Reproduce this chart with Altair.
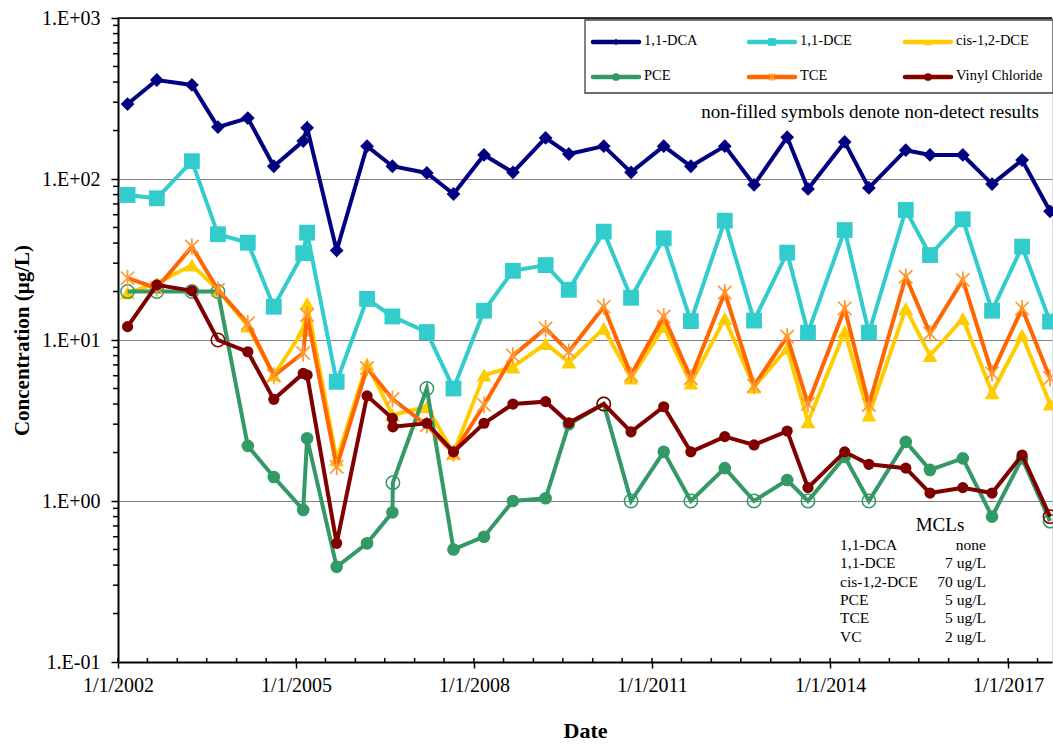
import altair as alt
import pandas as pd

# ---------------- data ----------------
dates = ["2002-03-01", "2002-08-28", "2003-04-01", "2003-09-08", "2004-03-10", "2004-08-17",
         "2005-02-14", "2005-03-10", "2005-09-08", "2006-03-14", "2006-08-17", "2006-08-20",
         "2007-03-17", "2007-08-28", "2008-03-03", "2008-08-28", "2009-03-17", "2009-08-07",
         "2010-03-10", "2010-08-25", "2011-03-14", "2011-08-28", "2012-03-24", "2012-09-20",
         "2013-04-12", "2013-08-18", "2014-04-01", "2014-08-28", "2015-04-12", "2015-09-08",
         "2016-03-28", "2016-09-24", "2017-03-28", "2017-09-16"]

dca = [292, 412, 384, 210, 239, 120, 172, 208, 36, 160, 120, None, 109, 80.7, 141, 110, 180, 143,
       160, 110, 160, 120, 160, 92, 182, 86.7, 170, 88, 151, 141, 141, 93, 131, 63]
dce = [79.6, 75.9, 129, 45.4, 40.2, 16.1, 34.6, 46.4, 5.5, 18.0, 14.0, None, 11.2, 5.0, 15.2, 26.9,
       29.2, 20.5, 47.1, 18.3, 42.8, 13.1, 55.1, 13.2, 34.9, 11.1, 48.2, 11.1, 64.2, 33.7, 56.2,
       15.2, 38.0, 13.0]
cis_dce = [19.6, 22.5, 29.2, 20.5, 12.2, 6.06, 11.5, 16.9, 1.80, 7.1, 3.42, None, 3.85, 1.98, 6.06,
           6.8, 9.5, 7.3, 11.8, 5.8, 12.1, 5.4, 13.6, 5.1, 8.9, 3.1, 11.3, 3.42, 15.7, 8.0, 13.6,
           4.7, 10.7, 4.0]
pce = [20, 20, 20, 20, 2.2, 1.41, 0.88, 2.45, 0.39, 0.546, 0.85, 1.3, 5.0, 0.50, 0.60, 1.0, 1.04,
       3.0, 4.0, 1.0, 2.02, 1.0, 1.6, 1.0, 1.35, 1.0, 1.88, 1.0, 2.33, 1.56, 1.84, 0.80, 1.84, 0.75]
tce = [24.2, 21, 38.0, 20.5, 12.7, 6.0, 8.3, 14.3, 1.63, 6.7, 4.3, None, 2.96, 1.98, 3.95, 8.0,
       11.8, 8.45, 16.1, 6.06, 14.0, 5.8, 19.7, 5.2, 10.5, 4.0, 15.7, 3.95, 24.7, 11.0, 23.6, 6.2,
       15.7, 5.8]
vc = [12.1, 22.0, 20.2, 10, 8.45, 4.28, 6.2, 6.06, 0.546, 4.5, 3.26, 2.89, 3.04, 2.02, 3.04, 4.0,
      4.14, 3.06, 4.0, 2.69, 3.85, 2.02, 2.51, 2.23, 2.72, 1.21, 2.02, 1.69, 1.60, 1.12, 1.21, 1.12,
      1.93, 0.80]
pce_nondetect = [0, 1, 2, 3, 11, 12, 18, 19, 21, 23, 25, 27, 33]
vc_nondetect = [3, 18, 33]

names = ["1,1-DCA", "1,1-DCE", "cis-1,2-DCE", "PCE", "TCE", "Vinyl Chloride"]
colors = ["#000080", "#33CCCC", "#FFCC00", "#339966", "#FF6600", "#800000"]

mcl_names = ["1,1-DCA", "1,1-DCE", "cis-1,2-DCE", "PCE", "TCE", "VC"]
mcl_values = ["none", "7 ug/L", "70 ug/L", "5 ug/L", "5 ug/L", "2 ug/L"]

major_years = [2002, 2005, 2008, 2011, 2014, 2017]
y_major = [0.1, 1, 10, 100, 1000]

# ---------------- layout ----------------
W, H = 934, 644
FONT = "Liberation Serif"
STAR = "M0,-1L0,1M-0.8,-0.8L0.8,0.8M-0.8,0.8L0.8,-0.8"

yscale = alt.Scale(type="log", domain=[0.1, 1000])
xscale = alt.Scale(type="utc", domain=[alt.DateTime(year=2002, month=1, date=1, utc=True),
                                       alt.DateTime(year=2017, month=9, date=28, utc=True)])

yaxis = alt.Axis(values=y_major, title="Concentration (µg/L)",
                 labelExpr="datum.value >= 1 ? '1.E+0' + format(log(datum.value)/log(10), '.0f') : '1.E-0' + format(-log(datum.value)/log(10), '.0f')",
                 grid=True, gridColor="#808080", gridWidth=1.2,
                 domainColor="black", domainWidth=2, tickColor="black", tickWidth=1.5, tickSize=7,
                 labelFont=FONT, labelFontSize=20, labelColor="black", labelPadding=11,
                 titleFont=FONT, titleFontSize=21, titleFontWeight="bold", titleColor="black",
                 titlePadding=9)
xaxis = alt.Axis(values=[alt.DateTime(year=y, month=1, date=1, utc=True) for y in major_years],
                 labelExpr="'1/1/' + utcFormat(datum.value, '%Y')", title="Date",
                 grid=False, domainColor="black", domainWidth=2, tickColor="black", tickWidth=1.5,
                 tickSize=6, labelFont=FONT, labelFontSize=20, labelColor="black", labelPadding=7,
                 labelFlush=False, labelOverlap=False,
                 titleFont=FONT, titleFontSize=22, titleFontWeight="bold", titleColor="black",
                 titlePadding=25)

X = alt.X("date:T", scale=xscale, axis=xaxis)
Y = alt.Y("value:Q", scale=yscale, axis=yaxis)

one = pd.DataFrame({"a": [0]})

layers = []

# minor ticks
y_minor = pd.DataFrame({"value": [m * 10.0 ** e for e in range(-1, 3) for m in range(2, 10)]})
layers.append(alt.Chart(y_minor).mark_rule(color="black", strokeWidth=1.5).encode(
    y=Y, x=alt.value(-5), x2=alt.value(0)))
x_minor = pd.DataFrame({"date": [f"{y}-{m:02d}-01" for y in range(2002, 2018) for m in (1, 7)]})
layers.append(alt.Chart(x_minor).mark_rule(color="black", strokeWidth=1.5).encode(
    x=X, y=alt.value(H - 4), y2=alt.value(H + 1)))

# top border
layers.append(alt.Chart(one).mark_rule(color="black", strokeWidth=1.5).encode(
    x=alt.value(0), x2=alt.value(W), y=alt.value(0)))


def frame(vals, nd_idx=()):
    rows = [{"date": d, "value": v, "nd": i in nd_idx}
            for i, (d, v) in enumerate(zip(dates, vals)) if v is not None]
    return pd.DataFrame(rows)


series = [
    (dca, colors[0], "diamond", 190, ()),
    (dce, colors[1], "square", 250, ()),
    (cis_dce, colors[2], "triangle-up", 220, ()),
    (pce, colors[3], "circle", 160, pce_nondetect),
    (tce, colors[4], STAR, 280, ()),
    (vc, colors[5], "circle", 125, vc_nondetect),
]

for vals, col, shape, size, nd in series:
    df = frame(vals, nd)
    layers.append(alt.Chart(df).mark_line(color=col, strokeWidth=4).encode(x=X, y=Y))
    filled = df[~df["nd"]]
    hollow = df[df["nd"]]
    if shape == STAR:
        layers.append(alt.Chart(filled).mark_point(shape=STAR, filled=False, size=size,
                                                   color="#FF9933", strokeWidth=1.7, opacity=1)
                      .encode(x=X, y=Y))
    else:
        layers.append(alt.Chart(filled).mark_point(shape=shape, filled=True, size=size,
                                                   color=col, opacity=1).encode(x=X, y=Y))
    if len(hollow):
        layers.append(alt.Chart(hollow).mark_point(shape="circle", filled=False, size=180,
                                                   color=col, strokeWidth=1.5, opacity=1)
                      .encode(x=X, y=Y))

# ---------------- legend ----------------
LX, LY = 467, 2
layers.append(alt.Chart(one).mark_rect(fill="white", stroke="#404040", strokeWidth=1.3).encode(
    x=alt.value(LX), x2=alt.value(W + 1), y=alt.value(LY), y2=alt.value(LY + 73)))

leg_shapes = ["diamond", "square", "triangle-up", "circle", STAR, "circle"]
leg_sizes = [45, 60, 60, 60, 60, 60]
for i, name in enumerate(names):
    c, r = i % 3, i // 3
    x0 = LX + 8 + c * 156
    yy = LY + 22 + r * 35
    layers.append(alt.Chart(one).mark_rule(color=colors[i], strokeWidth=4.5, strokeCap="round").encode(
        x=alt.value(x0), x2=alt.value(x0 + 46), y=alt.value(yy)))
    if leg_shapes[i] == STAR:
        layers.append(alt.Chart(one).mark_point(shape=STAR, filled=False, size=leg_sizes[i],
                                                color="#FF9933", strokeWidth=1.5, opacity=1).encode(
            x=alt.value(x0 + 23), y=alt.value(yy)))
    else:
        layers.append(alt.Chart(one).mark_point(shape=leg_shapes[i], filled=True, size=leg_sizes[i],
                                                color=colors[i], opacity=1).encode(
            x=alt.value(x0 + 23), y=alt.value(yy)))
for c in range(3):
    x0 = LX + 8 + c * 156
    layers.append(alt.Chart(one).mark_text(
        text=names[c] + "\n" + names[c + 3], lineBreak="\n", lineHeight=35, align="left",
        baseline="top", font=FONT, fontSize=14.5, color="black").encode(
        x=alt.value(x0 + 51), y=alt.value(LY + 14)))

layers.append(alt.Chart(one).mark_text(
    text="non-filled symbols denote non-detect results", align="right", baseline="middle",
    font=FONT, fontSize=19, color="black").encode(x=alt.value(921), y=alt.value(94)))

# ---------------- MCL table ----------------
layers.append(alt.Chart(one).mark_text(
    text="MCLs", align="center", baseline="middle", font=FONT, fontSize=19, color="black").encode(
    x=alt.value(822), y=alt.value(507)))
layers.append(alt.Chart(one).mark_text(
    text="\n".join(mcl_names), lineBreak="\n", lineHeight=18.3, align="left", baseline="top",
    font=FONT, fontSize=15.5, color="black").encode(x=alt.value(722), y=alt.value(520)))
layers.append(alt.Chart(one).mark_text(
    text="\n".join(mcl_values), lineBreak="\n", lineHeight=18.3, align="right", baseline="top",
    font=FONT, fontSize=15.5, color="black").encode(x=alt.value(868), y=alt.value(520)))

chart = alt.layer(*layers).properties(
    width=W, height=H,
    padding={"left": 118, "top": 18, "right": 1, "bottom": 82},
    autosize=alt.AutoSizeParams(type="none"),
).configure_view(stroke=None).configure(font=FONT)

chart.save("out.html", embed_options={"renderer": "svg", "actions": False})
